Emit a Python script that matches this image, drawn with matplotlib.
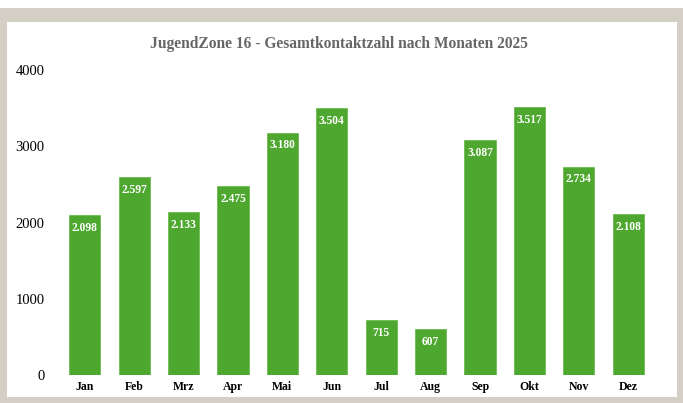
import matplotlib.pyplot as plt
from matplotlib.patches import Rectangle

monate = ['Jan', 'Feb', 'Mrz', 'Apr', 'Mai', 'Jun', 'Jul', 'Aug', 'Sep', 'Okt', 'Nov', 'Dez']
kontakte = [2098, 2597, 2133, 2475, 3180, 3504, 715, 607, 3087, 3517, 2734, 2108]
yticks = [0, 1000, 2000, 3000, 4000]

W, H = 683, 403
serif = ['Liberation Serif', 'DejaVu Serif']

fig = plt.figure(figsize=(W / 100, H / 100), dpi=100)
fig.patch.set_facecolor('white')
# beige frame and white panel
fig.patches.append(Rectangle((0, 0), 1, 1 - 8 / H, transform=fig.transFigure,
                             facecolor='#d3cfc4', edgecolor='none', zorder=-2))
fig.patches.append(Rectangle((7 / W, 6 / H), (677 - 7) / W, 375 / H,
                             transform=fig.transFigure, facecolor='white',
                             edgecolor='none', zorder=-1))

ax = fig.add_axes([60 / W, 1 - 375 / H, (653 - 60) / W, (375 - 70) / H], zorder=2)
ax.set_facecolor('none')
x = range(len(monate))
bars = ax.bar(x, kontakte, width=0.63, color='#4ea72e', edgecolor='#6cbb4f', linewidth=0.6)

for xi, v in zip(x, kontakte):
    lab = f'{v:,}'.replace(',', '.')
    ax.annotate(lab, (xi, v), xytext=(0, -5), textcoords='offset points',
                ha='center', va='top', color='white', fontweight='bold',
                fontsize=8.3, family=serif)

ax.set_xlim(-0.5, len(monate) - 0.5)
ax.set_ylim(0, 4000)
ax.set_yticks(yticks)
ax.set_yticklabels([str(t) for t in yticks], family=serif, fontsize=10.5)
ax.set_xticks(list(x))
ax.set_xticklabels(monate, family=serif, fontsize=8.5, fontweight='bold')
ax.tick_params(axis='y', length=0, pad=11)
ax.tick_params(axis='x', length=0, pad=4)
for s in ax.spines.values():
    s.set_visible(False)

fig.text(339 / W, 1 - 44 / H, 'JugendZone 16 - Gesamtkontaktzahl nach Monaten 2025',
         ha='center', va='center', color='#666666', fontsize=11.2,
         fontweight='bold', family=serif, zorder=3)

fig.savefig('out.png', dpi=100, facecolor=fig.get_facecolor())
